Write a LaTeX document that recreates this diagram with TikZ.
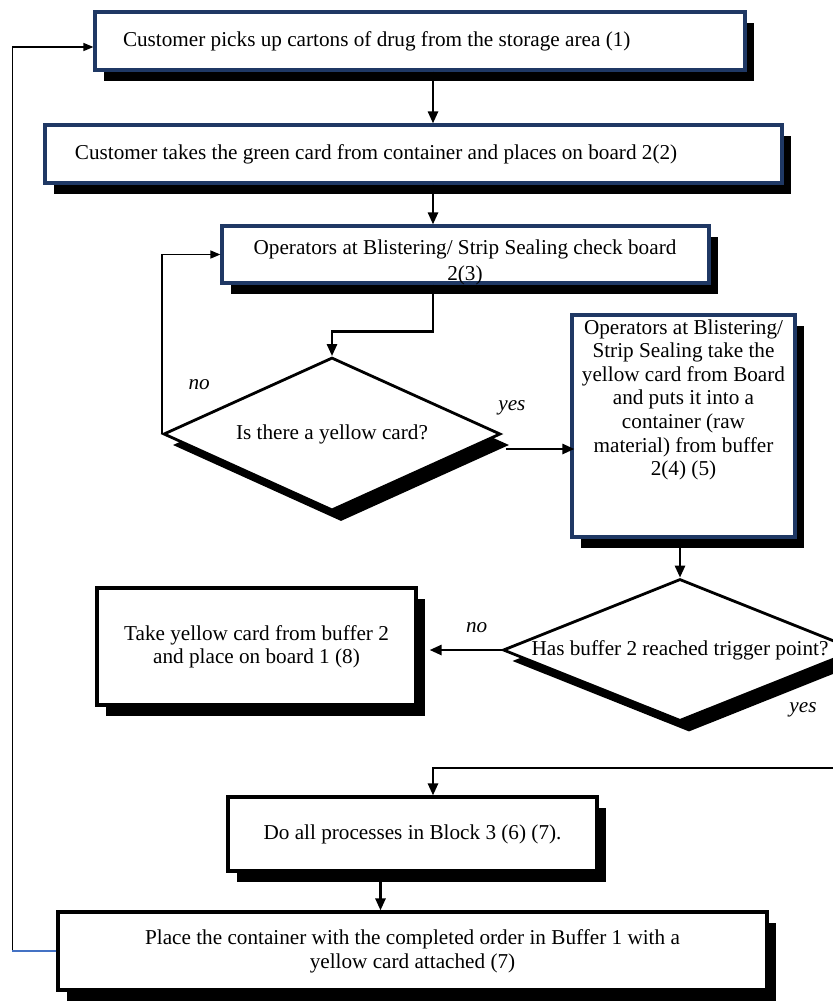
\documentclass[tikz,border=0pt]{standalone}
\usepackage{fontspec}
\setmainfont{Liberation Serif}
\usetikzlibrary{arrows.meta,shapes.geometric,shadows}
\definecolor{boxnavy}{RGB}{31,56,100}
\definecolor{fbblue}{RGB}{68,114,196}
\tikzset{
  shad/.style={drop shadow={shadow xshift=4.5pt,shadow yshift=-5.5pt,opacity=1,fill=black}},
  navybox/.style={draw=boxnavy,line width=1.6pt,fill=white,shad,inner sep=0pt},
  blackbox/.style={draw=black,line width=1.6pt,fill=white,shad,inner sep=0pt,align=center},
  decision/.style={diamond,draw=black,line width=1.4pt,fill=white,shad,inner sep=0pt,align=center},
  arr/.style={line width=1.3pt,-{Triangle[length=6pt,width=5pt]}},
  fb/.style={line width=0.7pt,-{Triangle[length=5pt,width=4pt]}},
  lbl/.style={font=\fontsize{10.6pt}{12pt}\selectfont\itshape,inner sep=0pt}
}
\begin{document}
\begin{tikzpicture}[x=0.5pt,y=-0.5pt,font=\fontsize{10.6pt}{12pt}\selectfont]
\useasboundingbox (0,0) rectangle (833,1003);
\coordinate (spine) at (433,0);
\coordinate (yesrow) at (433,768);
% boxes
\node[navybox,minimum width=325pt,minimum height=29pt,text width=297pt,align=flush left] (b1) at (420,41) {Customer picks up cartons of drug from the storage area (1)};
\node[navybox,minimum width=368.5pt,minimum height=29pt,text width=338.5pt,align=flush left] (b2) at (413.5,154) {Customer takes the green card from container and places on board 2(2)};
\node[navybox,minimum width=243.5pt,minimum height=28.5pt] (b3) at (465.5,254.5) {};
\node[align=center,inner sep=0pt,font=\fontsize{10.6pt}{13pt}\selectfont] (b3txt) at (465,262) {Operators at Blistering/ Strip Sealing check board\\2(3)};
\node[navybox,minimum width=111.5pt,minimum height=111pt] (b4) at (683.5,426) {};
\node[align=center,inner sep=0pt,anchor=north,font=\fontsize{10.6pt}{11.8pt}\selectfont] (b4txt) at (683.5,319) {Operators at Blistering/\\Strip Sealing take the\\yellow card from Board\\and puts it into a\\container (raw\\material) from buffer\\2(4) (5)};
\node[blackbox,minimum width=159.5pt,minimum height=58.5pt,font=\fontsize{10.6pt}{11.5pt}\selectfont] (b5) at (256.5,646.5) {Take yellow card from buffer 2\\and place on board 1 (8)};
\node[blackbox,minimum width=184.5pt,minimum height=37pt] (b6) at (412.5,834) {Do all processes in Block 3 (6) (7).};
\node[blackbox,minimum width=354.5pt,minimum height=39pt] (b7) at (412.5,951) {Place the container with the completed order in Buffer 1 with a\\yellow card attached (7)};
% decisions
\node[decision,minimum width=168.5pt,minimum height=76.5pt,aspect=2.2] (d1) at (332,434) {Is there a yellow card?};
\node[decision,minimum width=177pt,minimum height=71pt,aspect=2.5] (d2) at (680,650) {Has buffer 2 reached trigger point?};
% connectors
\draw[arr] (b1.south -| spine) -- (b2.north -| spine);
\draw[arr] (b2.south -| spine) -- (b3.north -| spine);
\draw[arr] (b3.south -| spine) -- ++(0,47) -| (d1.north);
\draw[fb] (d1.west) |- (b3.west);
\draw[arr] ([shift={(4,15)}]d1.east) -- ([shift={(4,15)}]d1.east -| b4.west);
\draw[arr] (b4.south -| d2.north) -- (d2.north);
\draw[arr] (d2.west) -- ([xshift=6pt]b5.east |- d2.west);
\draw[arr] (d2.east) -- ++(10,0) |- (yesrow) -- (b6.north -| yesrow);
\draw[arr] ([xshift=-16pt]b6.south) -- ([xshift=-16pt]b6.south |- b7.north);
\draw[fb] (b7.west) -- ++(-44,0) |- ([yshift=-3pt]b1.west);
\draw[fbblue,line width=0.7pt] (b7.west) -- ++(-44,0);
% labels
\node[lbl] (no1) at ([shift={(37,-49)}]d1.west) {no};
\node[lbl] (yes1) at ([shift={(10,-26)}]d1.east) {yes};
\node[lbl] (no2) at ([shift={(-25,-22)}]d2.west) {no};
\node[lbl] (yes2) at ([shift={(123,-13)}]d2.south) {yes};
\end{tikzpicture}
\end{document}
